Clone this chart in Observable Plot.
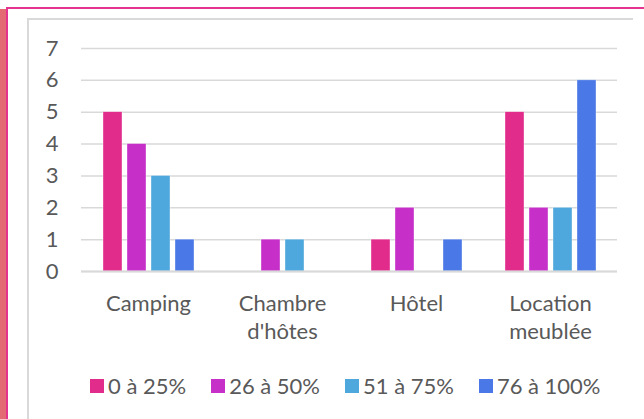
<!DOCTYPE html>
<html>
<head>
<meta charset="utf-8">
<script src="https://cdn.jsdelivr.net/npm/d3@7"></script>
<script src="https://cdn.jsdelivr.net/npm/@observablehq/plot@0.6"></script>
<style>
  body { margin: 0; background: #fff; }
  #wrap { position: relative; width: 644px; height: 419px; overflow: hidden; background: #fff; font-family: Lato, sans-serif; }
  .deco { position: absolute; }
  #chart { position: absolute; left: 0; top: 0; }
  #legend { position: absolute; left: 90px; top: 372px; width: 560px; }
  .lg-swatches { margin: 0 !important; min-height: 0 !important; }
  .lg-swatch { margin-right: 25px !important; }
  .lg-swatch > svg { margin-right: 4px !important; }
</style>
</head>
<body>
<div id="wrap">
  <div class="deco" style="left:0;top:9px;width:6px;height:410px;background:#E36A72"></div>
  <div class="deco" style="left:6px;top:7px;width:2px;height:412px;background:#E5348F"></div>
  <div class="deco" style="left:6px;top:7px;width:638px;height:2px;background:#E5348F"></div>
  <div class="deco" style="left:27px;top:18px;width:606px;height:2px;background:#D9D9D9"></div>
  <div class="deco" style="left:27px;top:18px;width:2px;height:401px;background:#D9D9D9"></div>
  <div id="chart"></div>
  <div id="legend"></div>
</div>
<script>
const categories = ["Camping", "Chambre\nd'hôtes", "Hôtel", "Location\nmeublée"];
const series = ["0 à 25%", "26 à 50%", "51 à 75%", "76 à 100%"];
const colors = ["#E22C8C", "#C630C9", "#4FA8DD", "#4A78E6"];
const s0to25 = [5, 0, 1, 5];
const s26to50 = [4, 1, 2, 2];
const s51to75 = [3, 1, 0, 2];
const s76to100 = [1, 0, 1, 6];
const yTicks = [0, 1, 2, 3, 4, 5, 6, 7];

const seriesValues = [s0to25, s26to50, s51to75, s76to100];
const data = [];
categories.forEach((c, i) => {
  series.forEach((s, j) => {
    const v = seriesValues[j][i];
    if (v > 0) data.push({category: c, series: s, value: v});
  });
});

const chart = Plot.plot({
  width: 644,
  height: 419,
  marginLeft: 80,
  marginRight: 26,
  marginTop: 48,
  marginBottom: 148,
  style: {fontFamily: "Lato, sans-serif", fontSize: "22px", color: "#595959", background: "transparent"},
  fx: {domain: categories, padding: 0, label: null},
  x: {domain: series, paddingInner: 0.22, paddingOuter: 0.87, axis: null},
  y: {domain: [0, 7], label: null},
  color: {domain: series, range: colors},
  marks: [
    Plot.gridY(yTicks, {stroke: "#D9D9D9", strokeOpacity: 1, strokeWidth: 1.5}),
    Plot.barY(data, {fx: "category", x: "series", y: "value", fill: "series", stroke: "white", strokeWidth: 0.6, strokeOpacity: 0.6}),
    Plot.ruleY([0], {stroke: "#D9D9D9", strokeWidth: 2}),
    Plot.axisY(yTicks, {tickSize: 0, tickPadding: 23, label: null, fill: "#595959", fontSize: 22}),
    Plot.axisFx({anchor: "bottom", tickSize: 0, tickPadding: 19, label: null, fill: "#595959", fontSize: 22, lineHeight: 1.3})
  ]
});
document.getElementById("chart").appendChild(chart);

const legend = Plot.legend({
  color: {type: "ordinal", domain: series, range: colors},
  legend: "swatches",
  swatchSize: 14,
  className: "lg",
  style: {fontFamily: "Lato, sans-serif", fontSize: "22px", color: "#595959"}
});
document.getElementById("legend").appendChild(legend);
</script>
</body>
</html>
